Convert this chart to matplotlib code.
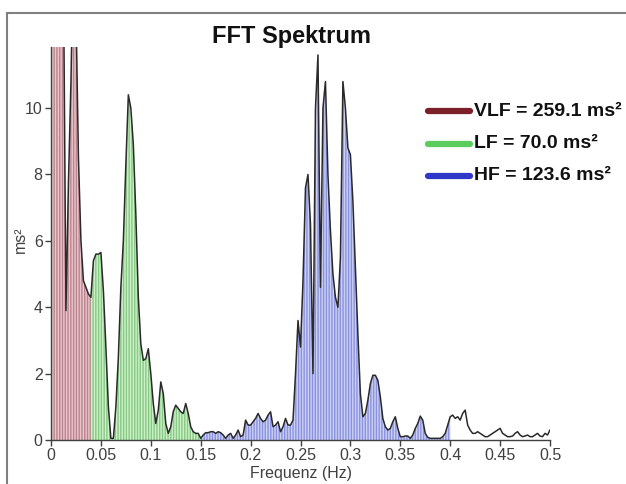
import numpy as np
import matplotlib
matplotlib.use("Agg")
import matplotlib.pyplot as plt
from matplotlib.lines import Line2D
from matplotlib.patches import Rectangle

plt.rcParams['font.family'] = ['Liberation Sans', 'DejaVu Sans']
plt.rcParams['hatch.linewidth'] = 1.0

# ---- data (power spectral density, ms^2), frequency grid 0..0.5 Hz step 0.0025 ----
freq = np.linspace(0.0, 0.5, 201)

vlf_power = [30, 36, 32, 26, 20, 14, 3.9, 7.8, 10.8, 15, 13, 8.5, 6.0, 4.8, 4.6, 4.4, 4.3]
lf_power = [5.4, 5.6, 5.6, 5.65, 4.5, 2.8, 1.0, 0.05, 0.05, 1.0, 2.5, 4.6, 6.0, 8.3,
            10.4, 10.0, 8.9, 6.8, 4.3, 2.9, 2.4, 2.45, 2.75, 2.0, 1.1, 0.5, 0.9, 1.75,
            1.4, 0.5, 0.2, 0.4, 0.85, 1.05, 0.95, 0.85, 0.8, 1.1, 0.8, 0.4, 0.25, 0.2,
            0.2, 0.05]
hf_power = [0.15, 0.22, 0.22, 0.25, 0.25, 0.2, 0.25, 0.22, 0.15, 0.05, 0.15, 0.2, 0.05,
            0.15, 0.3, 0.1, 0.15, 0.6, 0.45, 0.45, 0.55, 0.65, 0.8, 0.65, 0.55, 0.6, 0.75,
            0.85, 0.4, 0.45, 0.55, 0.25, 0.4, 0.65, 0.45, 0.45, 0.6, 2.0, 3.6, 2.8, 4.8,
            7.6, 8.0, 6.5, 2.0, 10.0, 11.6, 4.6, 10.0, 10.8, 8.0, 6.3, 5.0, 4.3, 4.0, 5.5,
            10.8, 10.0, 8.8, 8.6, 7.2, 5.2, 3.2, 1.4, 0.7, 0.8, 1.2, 1.7, 1.95, 1.95, 1.8,
            1.3, 0.65, 0.4, 0.3, 0.35, 0.55, 0.7, 0.35, 0.1, 0.1, 0.12, 0.12, 0.05, 0.15,
            0.35, 0.5, 0.72, 0.6, 0.2, 0.08, 0.05, 0.05, 0.05, 0.05, 0.05, 0.1, 0.2, 0.45,
            0.7]
rest_power = [0.75, 0.65, 0.7, 0.6, 0.8, 0.9, 0.45, 0.3, 0.2, 0.2, 0.25, 0.2, 0.15, 0.1,
              0.1, 0.15, 0.2, 0.25, 0.3, 0.35, 0.2, 0.15, 0.1, 0.1, 0.12, 0.2, 0.25, 0.15,
              0.1, 0.12, 0.15, 0.1, 0.1, 0.15, 0.2, 0.12, 0.1, 0.2, 0.15, 0.3]

power = np.array(vlf_power + lf_power + hf_power + rest_power, dtype=float)

band_names = ["VLF", "LF", "HF"]
band_limits = [(0.0, 0.04), (0.04, 0.15), (0.15, 0.4)]
band_totals = [259.1, 70.0, 123.6]
band_fill = ["#ebc6cb", "#cdf2c8", "#ccd0f6"]
band_stripe = ["#b98390", "#86c884", "#8a92dc"]
band_legend = ["#7b1f28", "#5ccc5c", "#3038c8"]

x_ticks = [0, 0.05, 0.1, 0.15, 0.2, 0.25, 0.3, 0.35, 0.4, 0.45, 0.5]
x_tick_labels = ["0", "0.05", "0.1", "0.15", "0.2", "0.25", "0.3", "0.35", "0.4", "0.45", "0.5"]
y_ticks = [0, 2, 4, 6, 8, 10]

# ---- figure ----
W, H = 626, 484
fig = plt.figure(figsize=(W / 100, H / 100), dpi=100)
ax = fig.add_axes([51 / W, (H - 440) / H, 499 / W, 393 / H])

for (lo, hi), fc, sc in zip(band_limits, band_fill, band_stripe):
    m = (freq >= lo - 1e-9) & (freq <= hi + 1e-9)
    ax.fill_between(freq[m], 0, power[m], facecolor=fc, edgecolor=sc,
                    hatch="||||||", linewidth=0, zorder=1)

ax.plot(freq, power, color="#2a2a2a", lw=1.1, zorder=3)

ax.set_xlim(0, 0.5)
ax.set_ylim(0, 11.84)
ax.set_xticks(x_ticks)
ax.set_xticklabels(x_tick_labels)
ax.set_yticks(y_ticks)
ax.tick_params(axis="both", colors="#404040", labelsize=11.5, length=4, width=1.0, pad=2)
for s in ["top", "right"]:
    ax.spines[s].set_visible(False)
for s in ["left", "bottom"]:
    ax.spines[s].set_color("#404040")
    ax.spines[s].set_linewidth(1.0)
ax.set_xlabel("Frequenz (Hz)", fontsize=11.5, color="#404040", labelpad=2)
fig.text(20 / W, 1 - 240 / H, "ms²", fontsize=11.5, color="#404040",
         rotation=90, ha="center", va="center")

fig.text(291 / W, 1 - 36 / H, "FFT Spektrum", fontsize=17, fontweight="bold",
         ha="center", va="center", color="#111111")

# legend (manual)
legend_y = [111, 144, 176]
for name, tot, col, yy in zip(band_names, band_totals, band_legend, legend_y):
    fig.add_artist(Line2D([428 / W, 470 / W], [1 - yy / H, 1 - yy / H], color=col,
                          lw=4.5, solid_capstyle="round"))
    fig.text(474 / W, 1 - yy / H, f"{name} = {tot:.1f} ms²", fontsize=14,
             fontweight="bold", ha="left", va="center", color="#111111")

# outer frame (left and top edges visible)
fig.add_artist(Rectangle((7 / W, -0.05), 1.2, 1 - 13 / H + 0.05, transform=fig.transFigure,
                         fill=False, edgecolor="#808080", lw=1.5))

fig.savefig("out.png", dpi=100)
